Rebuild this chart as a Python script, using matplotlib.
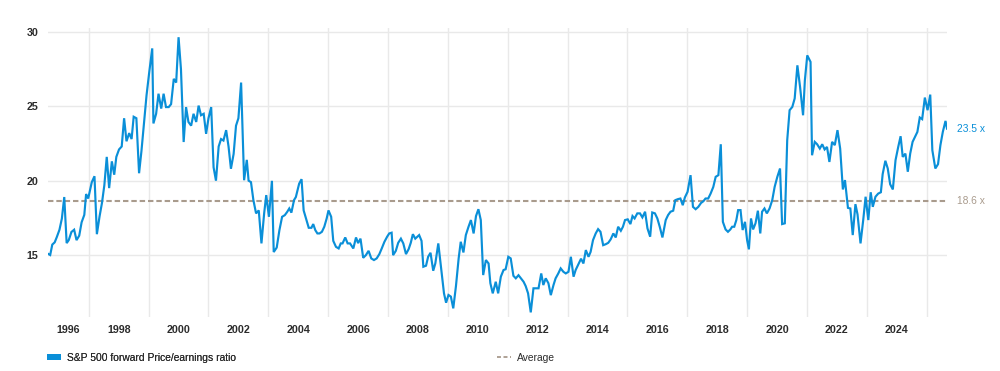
import matplotlib
matplotlib.use("Agg")
import matplotlib.pyplot as plt
import matplotlib.transforms as mtransforms
from matplotlib.patches import Patch
from matplotlib.lines import Line2D

plt.rcParams['font.family'] = ['Liberation Sans', 'DejaVu Sans']

# ---- data (decimal year, forward P/E) ----
dates = [
    1995.62, 1995.71, 1995.78, 1995.86, 1995.93, 1996.02, 1996.10, 1996.18, 1996.26, 1996.33,
    1996.42, 1996.51, 1996.59, 1996.68, 1996.76, 1996.85, 1996.91, 1996.98, 1997.10, 1997.19,
    1997.27, 1997.36, 1997.44, 1997.52, 1997.60, 1997.68, 1997.77, 1997.85, 1997.92, 1998.01,
    1998.10, 1998.18, 1998.26, 1998.35, 1998.43, 1998.50, 1998.59, 1998.68, 1998.76, 1998.85,
    1998.93, 1999.02, 1999.12, 1999.16, 1999.25, 1999.33, 1999.42, 1999.50, 1999.58, 1999.67,
    1999.75, 1999.84, 1999.92, 2000.00, 2000.08, 2000.17, 2000.25, 2000.33, 2000.42, 2000.50,
    2000.59, 2000.67, 2000.75, 2000.84, 2000.92, 2001.00, 2001.09, 2001.17, 2001.25, 2001.34,
    2001.42, 2001.50, 2001.59, 2001.67, 2001.75, 2001.84, 2001.92, 2002.00, 2002.09, 2002.19,
    2002.28, 2002.34, 2002.42, 2002.50, 2002.59, 2002.68, 2002.77, 2002.86, 2002.93, 2003.02,
    2003.12, 2003.18, 2003.28, 2003.37, 2003.46, 2003.55, 2003.63, 2003.70, 2003.77, 2003.86,
    2003.92, 2004.03, 2004.11, 2004.18, 2004.26, 2004.35, 2004.44, 2004.50, 2004.57, 2004.64,
    2004.71, 2004.79, 2004.87, 2004.95, 2005.01, 2005.10, 2005.17, 2005.26, 2005.35, 2005.42,
    2005.48, 2005.57, 2005.65, 2005.73, 2005.84, 2005.93, 2006.00, 2006.08, 2006.17, 2006.26,
    2006.35, 2006.44, 2006.53, 2006.62, 2006.71, 2006.79, 2006.88, 2006.97, 2007.04, 2007.12,
    2007.17, 2007.26, 2007.34, 2007.43, 2007.51, 2007.60, 2007.69, 2007.76, 2007.83, 2007.91,
    2007.98, 2008.04, 2008.12, 2008.18, 2008.27, 2008.34, 2008.42, 2008.51, 2008.58, 2008.68,
    2008.77, 2008.87, 2008.94, 2009.02, 2009.10, 2009.18, 2009.27, 2009.36, 2009.43, 2009.52,
    2009.60, 2009.69, 2009.77, 2009.86, 2009.94, 2010.02, 2010.10, 2010.18, 2010.27, 2010.36,
    2010.42, 2010.50, 2010.60, 2010.68, 2010.77, 2010.86, 2010.93, 2011.02, 2011.10, 2011.19,
    2011.27, 2011.36, 2011.44, 2011.53, 2011.60, 2011.68, 2011.77, 2011.86, 2011.94, 2012.03,
    2012.12, 2012.19, 2012.27, 2012.36, 2012.44, 2012.53, 2012.60, 2012.69, 2012.77, 2012.86,
    2012.94, 2013.03, 2013.11, 2013.20, 2013.27, 2013.36, 2013.45, 2013.53, 2013.61, 2013.70,
    2013.77, 2013.85, 2013.94, 2014.02, 2014.10, 2014.19, 2014.28, 2014.36, 2014.44, 2014.53,
    2014.61, 2014.69, 2014.78, 2014.85, 2014.92, 2015.01, 2015.10, 2015.17, 2015.24, 2015.33,
    2015.42, 2015.50, 2015.59, 2015.67, 2015.76, 2015.83, 2015.92, 2016.00, 2016.08, 2016.17,
    2016.28, 2016.36, 2016.44, 2016.53, 2016.60, 2016.69, 2016.77, 2016.85, 2016.92, 2017.01,
    2017.11, 2017.19, 2017.28, 2017.37, 2017.46, 2017.54, 2017.61, 2017.70, 2017.78, 2017.87,
    2017.95, 2018.04, 2018.12, 2018.19, 2018.28, 2018.36, 2018.44, 2018.50, 2018.57, 2018.64,
    2018.70, 2018.78, 2018.85, 2018.93, 2019.00, 2019.06, 2019.13, 2019.20, 2019.28, 2019.36,
    2019.44, 2019.50, 2019.58, 2019.66, 2019.75, 2019.84, 2019.92, 2020.01, 2020.10, 2020.17,
    2020.26, 2020.34, 2020.42, 2020.51, 2020.59, 2020.68, 2020.77, 2020.87, 2020.93, 2021.01,
    2021.12, 2021.17, 2021.26, 2021.34, 2021.43, 2021.51, 2021.59, 2021.67, 2021.75, 2021.84,
    2021.93, 2022.02, 2022.11, 2022.20, 2022.27, 2022.37, 2022.45, 2022.53, 2022.62, 2022.69,
    2022.79, 2022.88, 2022.96, 2023.05, 2023.13, 2023.20, 2023.29, 2023.38, 2023.47, 2023.53,
    2023.62, 2023.70, 2023.78, 2023.87, 2023.96, 2024.05, 2024.13, 2024.20, 2024.29, 2024.37,
    2024.45, 2024.53, 2024.60, 2024.69, 2024.77, 2024.85, 2024.94, 2025.03, 2025.12, 2025.19,
    2025.29, 2025.38, 2025.46, 2025.54, 2025.63, 2025.68,
]
pe = [
    15.1, 15.0, 15.7, 15.85, 16.2, 16.7, 17.45, 18.9, 15.8, 16.0,
    16.55, 16.7, 16.0, 16.3, 17.2, 17.7, 19.1, 18.8, 19.9, 20.3,
    16.4, 17.6, 18.5, 19.7, 21.6, 19.5, 21.3, 20.4, 21.6, 22.1,
    22.3, 24.2, 22.65, 23.2, 22.8, 24.3, 24.2, 20.5, 22.0, 24.0,
    25.75, 27.3, 28.9, 23.85, 24.5, 25.85, 24.85, 25.85, 24.95, 24.95,
    25.15, 26.85, 26.6, 29.65, 27.5, 22.6, 24.95, 23.95, 23.7, 24.5,
    23.95, 25.05, 24.4, 24.5, 23.15, 24.2, 24.95, 20.9, 20.0, 22.3,
    22.8, 22.7, 23.4, 22.3, 20.8, 21.8, 23.7, 24.2, 26.6, 20.03,
    21.4, 20.0, 19.9, 18.7, 17.8, 18.0, 15.78, 17.8, 19.03, 17.57,
    19.99, 15.2, 15.5, 16.67, 17.57, 17.68, 17.9, 18.13, 17.85, 18.7,
    18.9, 19.8, 20.1, 18.0, 17.46, 16.83, 16.83, 17.08, 16.67, 16.45,
    16.45, 16.56, 16.9, 17.46, 18.0, 17.57, 15.95, 15.55, 15.44, 15.78,
    15.78, 16.18, 15.78, 15.78, 15.44, 16.18, 15.8, 16.1, 14.81, 14.99,
    15.28, 14.77, 14.66, 14.77, 15.06, 15.44, 15.89, 16.23, 16.45, 16.5,
    14.99, 15.28, 15.82, 16.1, 15.78, 15.06, 15.4, 15.82, 16.4, 16.1,
    16.23, 16.34, 15.95, 14.21, 14.28, 14.88, 15.15, 13.94, 14.43, 15.78,
    14.21, 12.42, 11.79, 12.31, 12.2, 11.41, 12.91, 14.77, 15.89, 15.17,
    16.34, 16.9, 17.35, 16.45, 17.62, 18.08, 17.35, 13.65, 14.66, 14.43,
    13.1, 12.42, 13.2, 12.42, 13.54, 13.99, 14.04, 14.88, 14.77, 13.6,
    13.43, 13.64, 13.43, 13.2, 12.91, 12.42, 11.14, 12.76, 12.76, 12.76,
    13.76, 12.98, 13.43, 13.1, 12.3, 12.98, 13.43, 13.76, 14.1, 13.87,
    13.76, 13.87, 14.88, 13.54, 13.99, 14.37, 14.75, 14.43, 15.33, 14.88,
    15.21, 16.0, 16.45, 16.74, 16.56, 15.66, 15.73, 15.82, 16.05, 16.45,
    16.18, 16.9, 16.63, 16.9, 17.35, 17.4, 17.08, 17.62, 17.46, 17.8,
    17.8, 17.53, 17.91, 16.79, 16.23, 17.86, 17.8, 17.46, 16.9, 16.18,
    17.35, 17.69, 17.91, 17.98, 18.69, 18.76, 18.8, 18.35, 18.87, 19.25,
    20.37, 18.24, 18.08, 18.24, 18.5, 18.62, 18.8, 18.8, 19.13, 19.58,
    20.26, 20.37, 22.45, 17.23, 16.72, 16.56, 16.72, 16.9, 16.9, 17.35,
    18.02, 18.02, 16.68, 17.23, 16.0, 15.38, 17.46, 16.72, 17.13, 17.98,
    16.45, 17.91, 18.13, 17.8, 18.13, 18.69, 19.58, 20.26, 20.82, 17.08,
    17.13, 22.72, 24.74, 24.96, 25.53, 27.76, 26.3, 24.4, 26.75, 28.43,
    27.99, 21.71, 22.61, 22.45, 22.16, 22.45, 22.1, 22.27, 21.26, 22.61,
    22.39, 23.4, 22.16, 19.41, 20.04, 18.17, 18.13, 16.34, 18.42, 17.73,
    15.78, 17.35, 18.92, 17.35, 19.22, 18.24, 18.92, 19.13, 19.22, 20.44,
    21.34, 20.82, 19.76, 19.41, 21.38, 22.27, 22.99, 21.6, 21.82, 20.6,
    21.82, 22.61, 22.9, 23.28, 24.25, 24.14, 25.59, 24.74, 25.79, 22.05,
    20.82, 21.11, 22.39, 23.28, 24.02, 23.5,
]
average_pe = 18.6

label_years = [1996, 1998, 2000, 2002, 2004, 2006, 2008, 2010, 2012,
               2014, 2016, 2018, 2020, 2022, 2024]
grid_years = [1997, 1999, 2001, 2003, 2005, 2007, 2009, 2011, 2013,
              2015, 2017, 2019, 2021, 2023, 2025]
y_ticks = [15, 20, 25, 30]

series_name = "S&P 500 forward Price/earnings ratio"
avg_name = "Average"

BLUE = "#0a8fd8"
TAN = "#a99b8d"
GRID = "#e9e9e9"
TXT = "#2b2b2b"

fig = plt.figure(figsize=(10, 3.71), dpi=100)
ax = fig.add_axes([0.0475, 0.1464, 0.8995, 0.7773])

ax.plot(dates, pe, color=BLUE, lw=1.55, solid_joinstyle='miter', zorder=3)
ax.axhline(average_pe, color=TAN, lw=1.5, dashes=(2.6, 1.4), zorder=2)

ax.set_xlim(dates[0], dates[-1])
ax.set_ylim(10.85, 30.25)

ax.set_xticks(label_years)
ax.set_xticklabels([str(y) for y in label_years])
ax.set_xticks(grid_years, minor=True)
ax.set_yticks(y_ticks)
ax.set_yticklabels([str(v) for v in y_ticks])

ax.grid(which='minor', axis='x', color=GRID, lw=1.0)
ax.grid(which='major', axis='y', color=GRID, lw=1.0)
ax.grid(which='major', axis='x', visible=False)
ax.set_axisbelow(True)

ax.tick_params(which='both', length=0)
ax.tick_params(axis='x', pad=6, labelsize=7.7, labelcolor=TXT)
ax.tick_params(axis='y', pad=6.5, labelsize=7.7, labelcolor=TXT)
for lab in ax.get_xticklabels() + ax.get_yticklabels():
    lab.set_fontweight('bold')

# first x label sits a little to the right in the reference
first = ax.xaxis.get_major_ticks()[0].label1
first.set_transform(first.get_transform() +
                    mtransforms.ScaledTranslation(9 / 100, 0, fig.dpi_scale_trans))

for s in ax.spines.values():
    s.set_visible(False)

# right-hand value labels
ax.annotate(f"{pe[-1]:.1f} x", xy=(1, pe[-1]), xycoords=('axes fraction', 'data'),
            xytext=(7.5, 0), textcoords='offset points', va='center', ha='left',
            color=BLUE, fontsize=7.4, annotation_clip=False)
ax.annotate(f"{average_pe:.1f} x", xy=(1, average_pe), xycoords=('axes fraction', 'data'),
            xytext=(7.5, 0), textcoords='offset points', va='center', ha='left',
            color=TAN, fontsize=7.4, annotation_clip=False)

# legends
leg1 = fig.legend(handles=[Patch(facecolor=BLUE, edgecolor='none', label=series_name)],
                  loc='center left', bbox_to_anchor=(0.047, 0.036), frameon=False,
                  fontsize=7.4, handlelength=1.4, handleheight=0.6, handletextpad=0.5,
                  borderpad=0, borderaxespad=0, labelcolor=TXT)
leg2 = fig.legend(handles=[Line2D([], [], color=TAN, lw=1.3, dashes=(2.2, 1.4), label=avg_name)],
                  loc='center left', bbox_to_anchor=(0.497, 0.036), frameon=False,
                  fontsize=7.4, handlelength=1.4, handletextpad=0.5,
                  borderpad=0, borderaxespad=0, labelcolor=TXT)
fig.add_artist(leg1)

fig.savefig("out.png", dpi=100, facecolor='white')
